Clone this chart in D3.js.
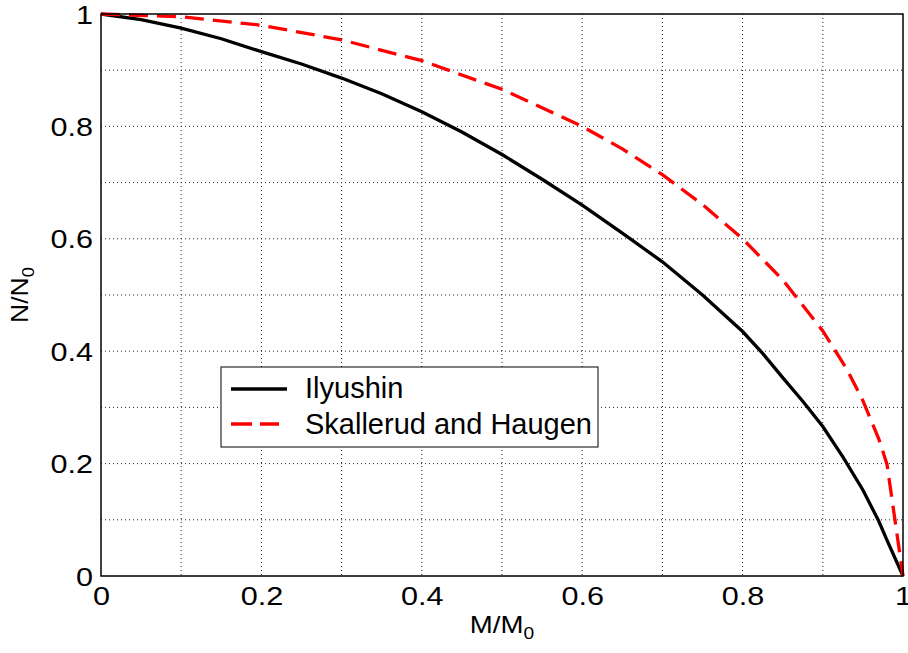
<!DOCTYPE html>
<html>
<head>
<meta charset="utf-8">
<script src="https://cdn.jsdelivr.net/npm/d3@7"></script>
<style>
  body { margin: 0; background: #fff; }
  text { font-family: "Liberation Sans", Arial, sans-serif; fill: #000; }
</style>
</head>
<body>
<div id="chart"></div>
<script>
var w = 908, h = 653;
var plotLeft = 101, plotRight = 903, plotTop = 14, plotBottom = 576;

// Ilyushin curve
var ilyM = [0, 0.05, 0.1, 0.15, 0.2, 0.25, 0.3, 0.35, 0.4, 0.45, 0.5, 0.55, 0.6, 0.65, 0.7, 0.75, 0.8, 0.825, 0.85, 0.875, 0.9, 0.925, 0.95, 0.97, 0.98, 1];
var ilyN = [1, 0.99, 0.975, 0.956, 0.933, 0.911, 0.886, 0.858, 0.826, 0.79, 0.75, 0.706, 0.66, 0.61, 0.559, 0.5, 0.435, 0.396, 0.353, 0.311, 0.266, 0.212, 0.153, 0.097, 0.064, 0];

// Skallerud and Haugen curve
var skhM = [0, 0.1, 0.2, 0.3, 0.4, 0.5, 0.6, 0.65, 0.7, 0.75, 0.8, 0.85, 0.9, 0.93, 0.95, 0.97, 0.98, 1];
var skhN = [1, 0.995, 0.98, 0.954, 0.917, 0.866, 0.8, 0.76, 0.714, 0.661, 0.6, 0.527, 0.436, 0.368, 0.312, 0.243, 0.199, 0];

var tickVals = [0, 0.2, 0.4, 0.6, 0.8, 1];
var gridVals = [0.1, 0.2, 0.3, 0.4, 0.5, 0.6, 0.7, 0.8, 0.9];

var seriesNames = ["Ilyushin", "Skallerud and Haugen"];

var xScale = d3.scaleLinear().domain([0, 1]).range([plotLeft, plotRight]);
var yScale = d3.scaleLinear().domain([0, 1]).range([plotBottom, plotTop]);

var svg = d3.select("#chart")
  .append("svg")
  .attr("width", w)
  .attr("height", h);

// Grid
svg.append("g")
  .selectAll("line")
  .data(gridVals)
  .enter()
  .append("line")
  .attr("x1", function(d) { return xScale(d); })
  .attr("x2", function(d) { return xScale(d); })
  .attr("y1", plotTop)
  .attr("y2", plotBottom)
  .attr("stroke", "#222")
  .attr("stroke-width", 1)
  .attr("stroke-dasharray", "1,3");

svg.append("g")
  .selectAll("line")
  .data(gridVals)
  .enter()
  .append("line")
  .attr("y1", function(d) { return yScale(d); })
  .attr("y2", function(d) { return yScale(d); })
  .attr("x1", plotLeft)
  .attr("x2", plotRight)
  .attr("stroke", "#222")
  .attr("stroke-width", 1)
  .attr("stroke-dasharray", "1,3");

// Curves
var line = d3.line()
  .x(function(d) { return xScale(d[0]); })
  .y(function(d) { return yScale(d[1]); });

svg.append("path")
  .datum(d3.zip(ilyM, ilyN))
  .attr("d", line)
  .attr("fill", "none")
  .attr("stroke", "#000")
  .attr("stroke-width", 3.3);

svg.append("path")
  .datum(d3.zip(skhM, skhN))
  .attr("d", line)
  .attr("fill", "none")
  .attr("stroke", "#ff0000")
  .attr("stroke-width", 3.3)
  .attr("stroke-dasharray", "19,9");

// Box
svg.append("rect")
  .attr("x", plotLeft)
  .attr("y", plotTop)
  .attr("width", plotRight - plotLeft)
  .attr("height", plotBottom - plotTop)
  .attr("fill", "none")
  .attr("stroke", "#000")
  .attr("stroke-width", 1.5);

// Axes
var fmt = function(d) { return d3.format("")(d); };

var xAxis = d3.axisBottom(xScale).tickValues(tickVals).tickSize(0).tickFormat(fmt);
var gx = svg.append("g")
  .attr("class", "x_axis")
  .attr("transform", "translate(0, " + plotBottom + ")")
  .call(xAxis);
gx.select(".domain").remove();
gx.selectAll("text")
  .attr("y", 29)
  .attr("dy", null)
  .attr("transform", "scale(1.2,1)")
  .style("font-size", "25.5px")
  .style("font-family", "'Liberation Sans', Arial, sans-serif")
  .attr("fill", "#000");

var yAxis = d3.axisLeft(yScale).tickValues(tickVals).tickSize(0).tickFormat(fmt);
var gy = svg.append("g")
  .attr("class", "y_axis")
  .attr("transform", "translate(" + plotLeft + ", 0)")
  .call(yAxis);
gy.select(".domain").remove();
gy.selectAll("text")
  .attr("x", -6.7)
  .attr("dy", "0.36em")
  .attr("transform", "scale(1.2,1)")
  .style("font-size", "25.5px")
  .style("font-family", "'Liberation Sans', Arial, sans-serif")
  .attr("fill", "#000");

// Axis labels
var xl = svg.append("text")
  .attr("transform", "translate(" + ((plotLeft + plotRight) / 2) + ",633) scale(1.2,1)")
  .attr("text-anchor", "middle")
  .style("font-size", "23px");
xl.append("tspan").text("M/M");
xl.append("tspan").attr("dy", 6).style("font-size", "16px").text("0");

var yl = svg.append("text")
  .attr("transform", "translate(28," + ((plotTop + plotBottom) / 2) + ") rotate(-90) scale(1.15,1)")
  .attr("text-anchor", "middle")
  .style("font-size", "23px");
yl.append("tspan").text("N/N");
yl.append("tspan").attr("dy", 6).style("font-size", "16px").text("0");

// Legend
var legend = svg.append("g");
legend.append("rect")
  .attr("x", 221)
  .attr("y", 367)
  .attr("width", 377)
  .attr("height", 80)
  .attr("fill", "#fff")
  .attr("stroke", "#000")
  .attr("stroke-width", 1);

legend.append("line")
  .attr("x1", 231).attr("x2", 287)
  .attr("y1", 389).attr("y2", 389)
  .attr("stroke", "#000")
  .attr("stroke-width", 3.3);

legend.append("line")
  .attr("x1", 231).attr("x2", 279)
  .attr("y1", 424).attr("y2", 424)
  .attr("stroke", "#ff0000")
  .attr("stroke-width", 3.3)
  .attr("stroke-dasharray", "21,8");

legend.selectAll("text.lg")
  .data(seriesNames)
  .enter()
  .append("text")
  .attr("class", "lg")
  .attr("x", 305)
  .attr("y", function(d, i) { return 397.5 + i * 36; })
  .style("font-size", "29px")
  .text(function(d) { return d; });
</script>
</body>
</html>
